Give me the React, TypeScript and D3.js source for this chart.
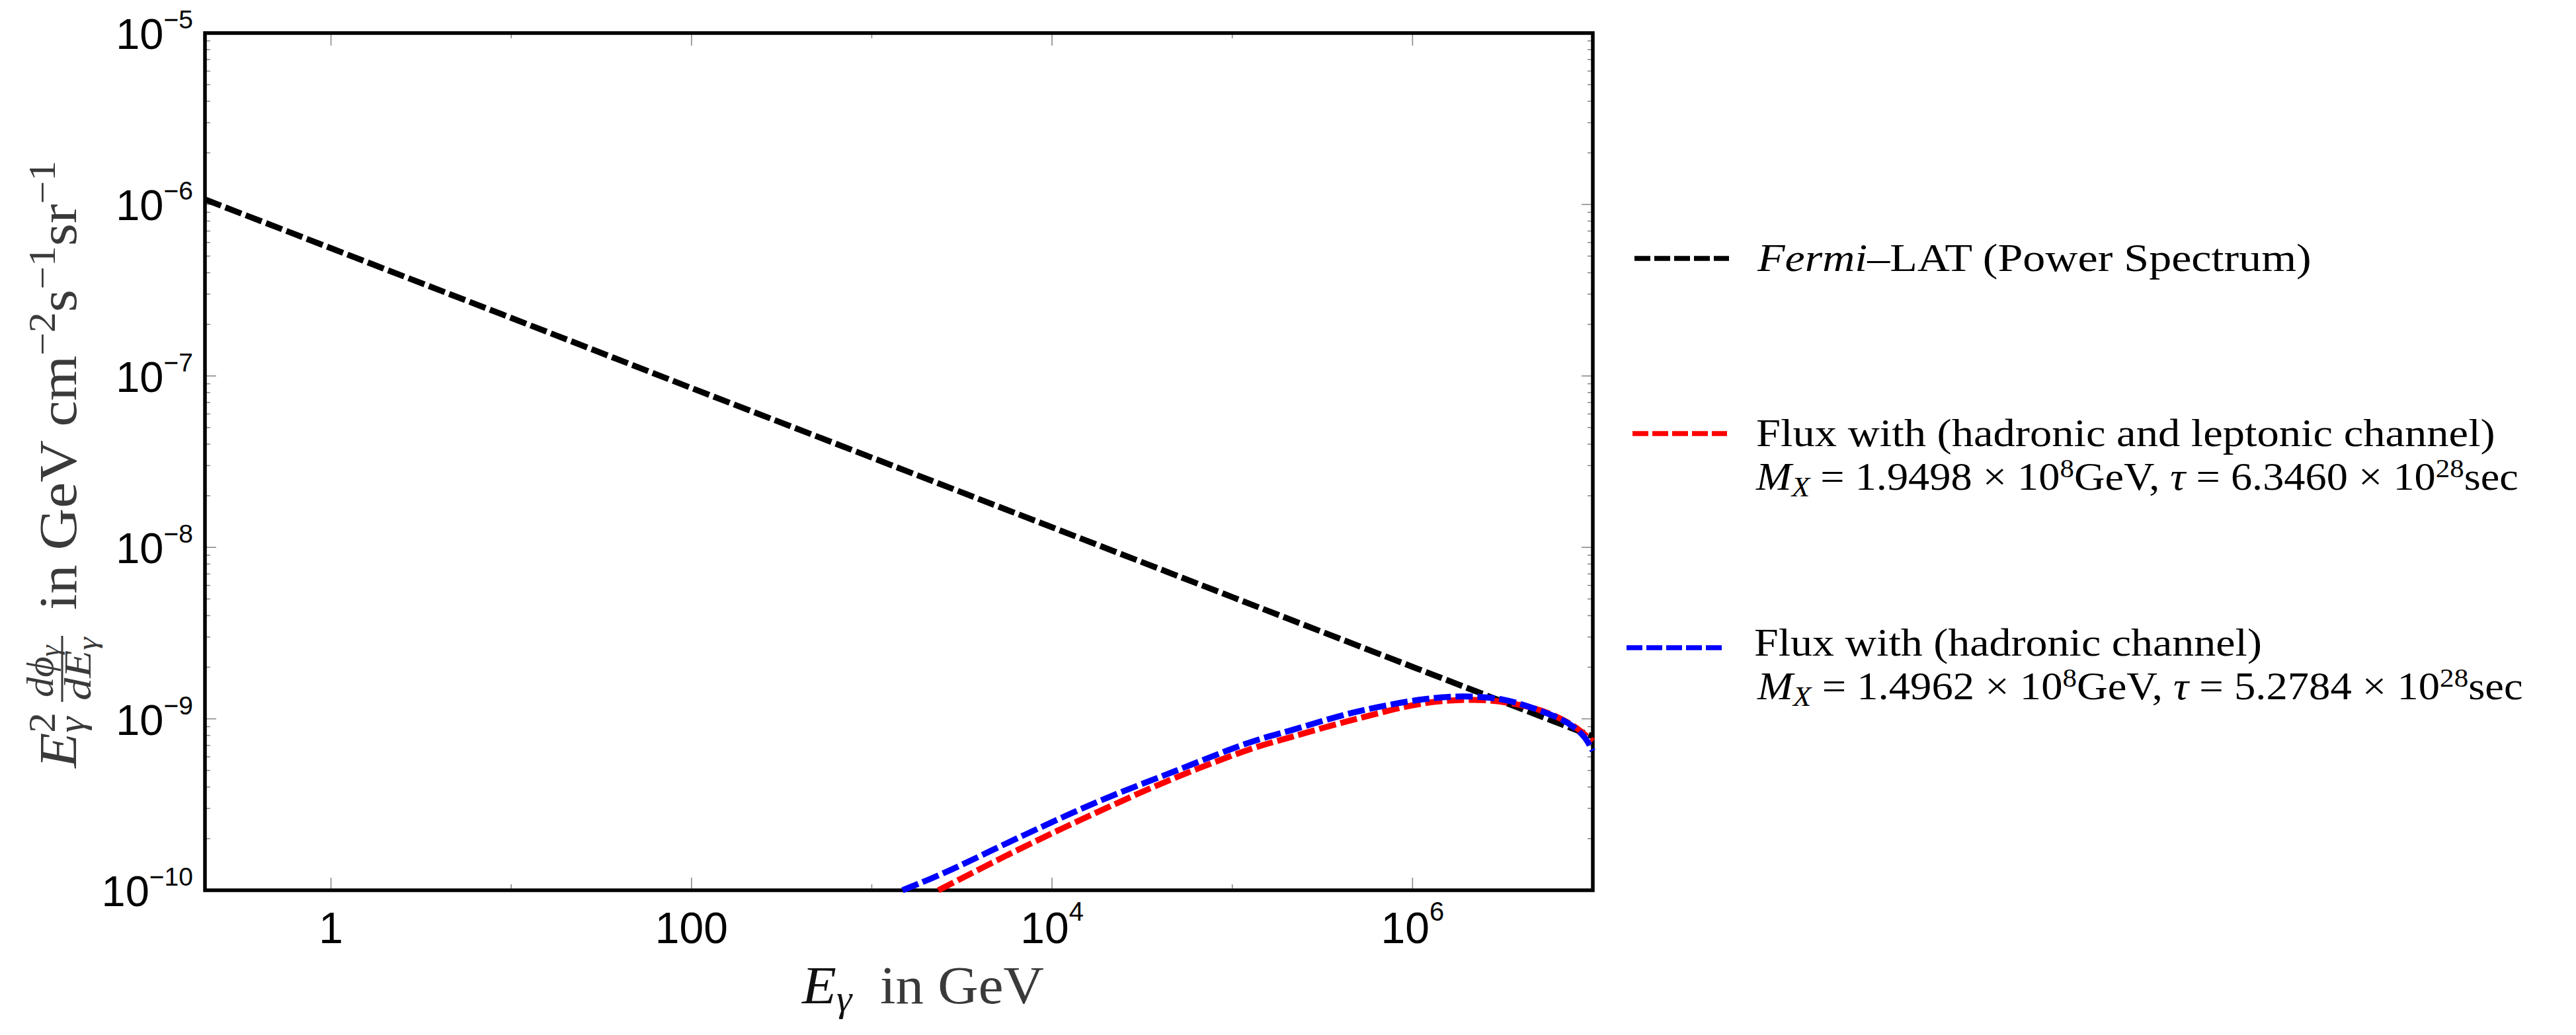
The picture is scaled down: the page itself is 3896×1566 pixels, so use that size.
import { useLayoutEffect, useRef, useState, type ReactNode } from "react";
import * as d3 from "d3";

const WIDTH = 3896;
const HEIGHT = 1566;
const PLOT = { left: 310, right: 2409, top: 50, bottom: 1347 };

// Fermi-LAT power spectrum (straight in log-log)
const fermiEnergy = [0.2, 1, 10, 100, 1e3, 1e4, 1e5, 1e6, 1e7];
const fermiFlux = [1.07e-6, 5.56e-7, 2.18e-7, 8.5e-8, 3.34e-8, 1.31e-8, 5.13e-9, 2.01e-9, 7.9e-10];

// hadronic + leptonic channel (red)
const leptEnergy = [2.34e3, 6.61e3, 1.74e4, 4.68e4, 1.23e5, 2.14e5, 4.9e5, 1.15e6, 2.2e6, 3.55e6, 5.4e6, 7.8e6, 1e7];
const leptFlux = [1.0e-10, 1.74e-10, 2.82e-10, 4.47e-10, 6.6e-10, 7.85e-10, 1.0e-9, 1.23e-9, 1.29e-9, 1.23e-9, 1.1e-9, 9.1e-10, 7.4e-10];

// hadronic channel only (blue)
const hadrEnergy = [1.48e3, 2.51e3, 6.61e3, 1.74e4, 4.68e4, 1.23e5, 2.14e5, 4.9e5, 1.15e6, 1.9e6, 3.1e6, 4.7e6, 7.2e6, 8.9e6, 1e7];
const hadrFlux = [1.0e-10, 1.26e-10, 2.04e-10, 3.24e-10, 4.9e-10, 7.24e-10, 8.6e-10, 1.1e-9, 1.3e-9, 1.35e-9, 1.3e-9, 1.15e-9, 9.5e-10, 7.9e-10, 6.5e-10];

const xMajorTicks = [1, 100, 1e4, 1e6];
const xMajorBase = ["1", "100", "10", "10"];
const xMajorExp = ["", "", "4", "6"];
const xMinorTicks = [10, 1e3, 1e5];

const yMajorTicks = [1e-5, 1e-6, 1e-7, 1e-8, 1e-9, 1e-10];
const yMajorExp = ["\u22125", "\u22126", "\u22127", "\u22128", "\u22129", "\u221210"];

const SERIF = "'Liberation Serif', 'DejaVu Serif', serif";
const SANS = "'Liberation Sans', Arial, sans-serif";
const TITLE_GRAY = "#3a3a3a";

// text squeezed/stretched horizontally to a measured width
const FitText = ({
  x,
  y,
  width,
  children,
  ...rest
}: {
  x: number;
  y: number;
  width: number;
  children: ReactNode;
  [k: string]: any;
}) => {
  const ref = useRef<SVGTextElement>(null);
  const [s, setS] = useState(1);
  useLayoutEffect(() => {
    if (!ref.current) return;
    const w = ref.current.getBBox().width;
    if (w > 0) setS(width / w);
  }, [width]);
  return (
    <g transform={`translate(${x},${y}) scale(${s},1)`}>
      <text ref={ref} x={0} y={0} {...rest}>
        {children}
      </text>
    </g>
  );
};

const App = () => {
  const xScale = d3.scaleLog().domain([0.2, 1e7]).range([PLOT.left, PLOT.right]);
  const yScale = d3.scaleLog().domain([1e-10, 1e-5]).range([PLOT.bottom, PLOT.top]);

  const straight = d3
    .line<number>()
    .x((_, i) => xScale(fermiEnergy[i]))
    .y((d) => yScale(d));

  const curve = (energy: number[]) =>
    d3
      .line<number>()
      .x((_, i) => xScale(energy[i]))
      .y((d) => yScale(d))
      .curve(d3.curveCatmullRom.alpha(0.5));

  const yMinorTicks: number[] = [];
  yMajorTicks.slice(1).forEach((dec) => {
    for (let k = 2; k <= 9; k++) yMinorTicks.push(dec * k);
  });

  const tickColor = "#8a8a8a";

  return (
    <svg
      width={WIDTH}
      height={HEIGHT}
      style={{ position: "absolute", left: 0, top: 0, background: "#fff" }}
    >
      <rect width={WIDTH} height={HEIGHT} fill="#fff" />

      {/* y ticks, both sides, inward */}
      <g stroke={tickColor} strokeWidth={1.6}>
        {yMajorTicks.map((t) => (
          <g key={"ym" + t}>
            <line x1={PLOT.left} x2={PLOT.left + 17} y1={yScale(t)} y2={yScale(t)} />
            <line x1={PLOT.right - 17} x2={PLOT.right} y1={yScale(t)} y2={yScale(t)} />
          </g>
        ))}
        {yMinorTicks.map((t) => (
          <g key={"yn" + t}>
            <line x1={PLOT.left} x2={PLOT.left + 8} y1={yScale(t)} y2={yScale(t)} />
            <line x1={PLOT.right - 8} x2={PLOT.right} y1={yScale(t)} y2={yScale(t)} />
          </g>
        ))}
        {xMajorTicks.map((t) => (
          <g key={"xm" + t}>
            <line x1={xScale(t)} x2={xScale(t)} y1={PLOT.bottom} y2={PLOT.bottom - 19} />
            <line x1={xScale(t)} x2={xScale(t)} y1={PLOT.top} y2={PLOT.top + 19} />
          </g>
        ))}
        {xMinorTicks.map((t) => (
          <g key={"xn" + t}>
            <line x1={xScale(t)} x2={xScale(t)} y1={PLOT.bottom} y2={PLOT.bottom - 9} />
            <line x1={xScale(t)} x2={xScale(t)} y1={PLOT.top} y2={PLOT.top + 8} />
          </g>
        ))}
      </g>

      {/* frame */}
      <rect
        x={PLOT.left}
        y={PLOT.top}
        width={PLOT.right - PLOT.left}
        height={PLOT.bottom - PLOT.top}
        fill="none"
        stroke="#000"
        strokeWidth={5.5}
      />

      {/* tick labels */}
      <g fontFamily={SANS} fill="#000">
        {yMajorTicks.map((t, i) => (
          <text key={"yl" + t} x={292} y={yScale(t) + 24} textAnchor="end" fontSize={65}>
            10
            <tspan fontSize={39} dy={-31}>
              {yMajorExp[i]}
            </tspan>
          </text>
        ))}
        {xMajorTicks.map((t, i) => (
          <text key={"xl" + t} x={xScale(t)} y={1427} textAnchor="middle" fontSize={66}>
            {xMajorBase[i]}
            {xMajorExp[i] && (
              <tspan fontSize={40} dy={-34}>
                {xMajorExp[i]}
              </tspan>
            )}
          </text>
        ))}
      </g>

      {/* curves */}
      <g fill="none" strokeWidth={9} strokeDasharray="26 7">
        <path d={straight(fermiFlux) ?? ""} stroke="#000" />
        <path d={curve(leptEnergy)(leptFlux) ?? ""} stroke="#ff0000" />
        <path d={curve(hadrEnergy)(hadrFlux) ?? ""} stroke="#0000ff" />
      </g>

      {/* x axis title */}
      <FitText x={1213} y={1518} width={367} fontFamily={SERIF} fontSize={80} fill={TITLE_GRAY}>
        <tspan fontStyle="italic" fill="#111">
          E
        </tspan>
        <tspan fontStyle="italic" fill="#111" fontSize={56} dy={12}>
          γ
        </tspan>
        <tspan dy={-12}>{"\u00a0\u00a0in GeV"}</tspan>
      </FitText>

      {/* y axis title, rotated */}
      <g transform="translate(115,700) rotate(-90)" fontFamily={SERIF} fill={TITLE_GRAY}>
        <FitText x={-462} y={0} width={85} fontSize={80}>
          <tspan fontStyle="italic">E</tspan>
          <tspan fontSize={56} dy={-32}>
            2
          </tspan>
          <tspan fontSize={56} fontStyle="italic" dx={-28} dy={44}>
            γ
          </tspan>
        </FitText>
        <FitText x={-355} y={-35} width={80} fontSize={56} fontStyle="italic">
          dϕ
          <tspan fontSize={40} dy={9}>
            γ
          </tspan>
        </FitText>
        <line x1={-362} x2={-262} y1={-21} y2={-21} stroke={TITLE_GRAY} strokeWidth={3} />
        <FitText x={-360} y={22} width={97} fontSize={56} fontStyle="italic">
          dE
          <tspan fontSize={40} dy={9}>
            γ
          </tspan>
        </FitText>
        <FitText x={-223} y={0} width={680} fontSize={80}>
          {"in GeV cm"}
          <tspan fontSize={56} dy={-32}>
            {"\u22122"}
          </tspan>
          <tspan dy={32}>s</tspan>
          <tspan fontSize={56} dy={-32}>
            {"\u22121"}
          </tspan>
          <tspan dy={32}>sr</tspan>
          <tspan fontSize={56} dy={-32}>
            {"\u22121"}
          </tspan>
        </FitText>
      </g>

      {/* legend */}
      <g fill="none" strokeWidth={7.5} strokeDasharray="24 6">
        <line x1={2472} x2={2615} y1={391} y2={391} stroke="#000" />
        <line x1={2469} x2={2612} y1={656} y2={656} stroke="#ff0000" />
        <line x1={2460} x2={2605} y1={980} y2={980} stroke="#0000ff" />
      </g>
      <g fontFamily={SERIF} fill="#000">
        <FitText x={2658} y={410} width={839} fontSize={60}>
          <tspan fontStyle="italic">Fermi</tspan>
          {"\u2013LAT (Power Spectrum)"}
        </FitText>
        <FitText x={2656} y={675} width={1118} fontSize={60}>
          Flux with (hadronic and leptonic channel)
        </FitText>
        <FitText x={2656} y={741} width={1154} fontSize={60}>
          <tspan fontStyle="italic">M</tspan>
          <tspan fontStyle="italic" fontSize={42} dy={10}>
            X
          </tspan>
          <tspan dy={-10}>{" = 1.9498 \u00d7 10"}</tspan>
          <tspan fontSize={40} dy={-19}>
            8
          </tspan>
          <tspan dy={19}>{"GeV, "}</tspan>
          <tspan fontStyle="italic">τ</tspan>
          {" = 6.3460 \u00d7 10"}
          <tspan fontSize={40} dy={-19}>
            28
          </tspan>
          <tspan dy={19}>sec</tspan>
        </FitText>
        <FitText x={2653} y={992} width={768} fontSize={60}>
          Flux with (hadronic channel)
        </FitText>
        <FitText x={2658} y={1058} width={1159} fontSize={60}>
          <tspan fontStyle="italic">M</tspan>
          <tspan fontStyle="italic" fontSize={42} dy={10}>
            X
          </tspan>
          <tspan dy={-10}>{" = 1.4962 \u00d7 10"}</tspan>
          <tspan fontSize={40} dy={-19}>
            8
          </tspan>
          <tspan dy={19}>{"GeV, "}</tspan>
          <tspan fontStyle="italic">τ</tspan>
          {" = 5.2784 \u00d7 10"}
          <tspan fontSize={40} dy={-19}>
            28
          </tspan>
          <tspan dy={19}>sec</tspan>
        </FitText>
      </g>
    </svg>
  );
};

export default App;
